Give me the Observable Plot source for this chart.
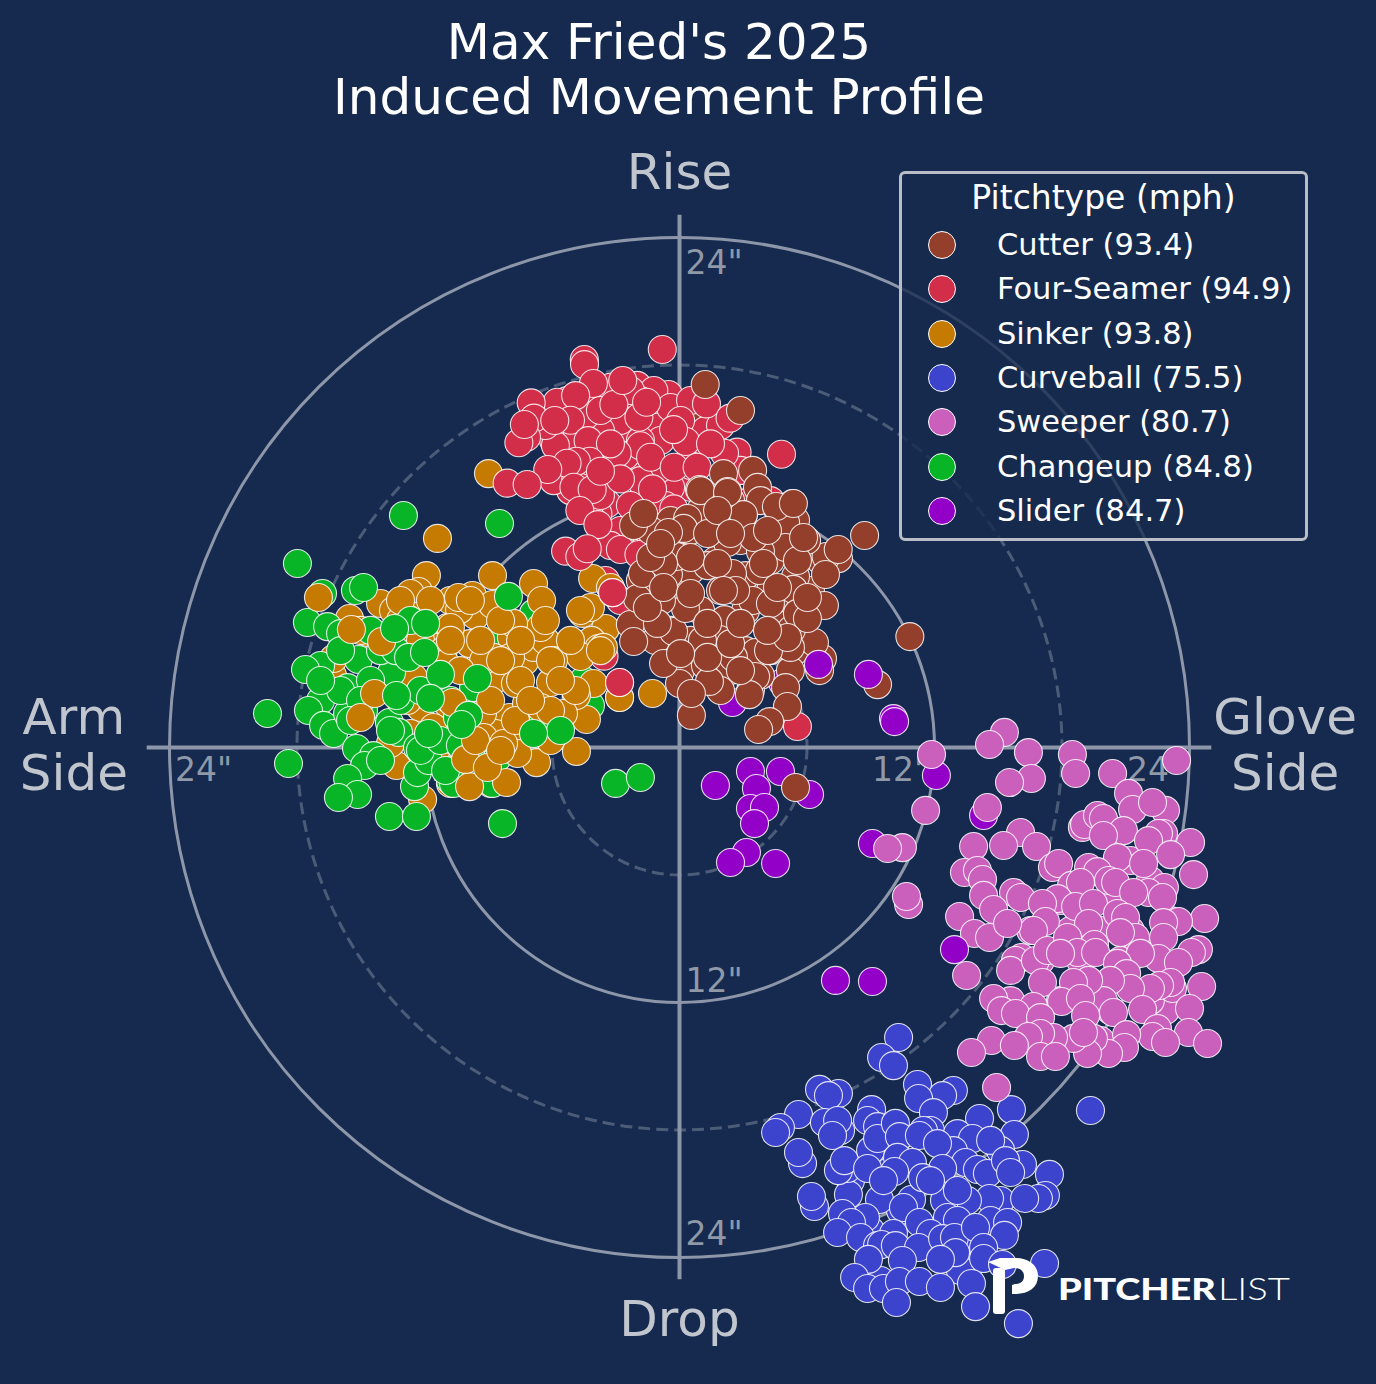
<!DOCTYPE html>
<html><head><meta charset="utf-8">
<style>
html,body{margin:0;padding:0;background:#152a4e;}
#wrap{position:relative;width:1376px;height:1384px;overflow:hidden;font-family:"DejaVu Sans",sans-serif;}
#title{position:absolute;left:0;top:15px;width:1318px;text-align:center;color:#fff;font-size:50px;line-height:55px;}
#legend{position:absolute;left:899px;top:171px;width:403px;height:364px;border:3px solid #b9bdc6;border-radius:6px;background:rgba(21,42,78,.8);color:#fff;}
#legend .h{position:absolute;left:0;width:100%;top:4px;text-align:center;font-size:33px;line-height:40px;}
#legend .r{position:absolute;left:26px;height:40px;line-height:40px;font-size:30.5px;white-space:nowrap;}
#legend .c{position:absolute;left:0;top:6px;width:26px;height:26px;border-radius:50%;border:1px solid #fff;}
#legend .t{position:absolute;left:69px;top:0;}
#logo{position:absolute;left:0;top:0;pointer-events:none;}
</style>
<script src="https://cdn.jsdelivr.net/npm/d3@7"></script>
<script src="https://cdn.jsdelivr.net/npm/@observablehq/plot@0.6"></script>
</head><body><div id="wrap"><div id="title">Max Fried's 2025<br>Induced Movement Profile</div></div>
<script>
const pitchNames=["Cutter","Four-Seamer","Sinker","Curveball","Sweeper","Changeup","Slider"];
const pitchMph=[93.4,94.9,93.8,75.5,80.7,84.8,84.7];
const pitchColors=["#933f2c","#d22d49","#c57a02","#3c44cd","#ca5fbc","#07b526","#9300c7"];
const ringsSolid=[12,24];
const ringsDashed=[6,18];

// horizontal / vertical induced movement, inches
const sinkerLow=[[-11.39,9.84],[-11.91,8.09],[-12.28,7.34],[-14.07,6.78],[-13.46,6.45],[-12.66,7.25],[-12.19,6.21],[-12.8,6.07],[-15.53,6.07],[-14.68,5.41],[-16.33,3.39],[-16.28,4.19],[-12.09,-2.45],[-13.69,-.47],[-13.32,-.85],[-10.78,6.92],[-10.92,5.65],[-12.52,3.29],[-12.19,1.88],[-10.92,2.07],[-11.58,.94],[-12.8,2.21],[-13.6,.19],[-12.66,.66],[-11.39,0],[-10.78,-1.69],[-13.27,5.04],[-11.39,4.71],[-15.01,5.51],[-13.13,5.98],[-12.19,5.04],[-13.13,6.92],[-8.89,-1.69]];
const changeup=[[-12.99,10.92],[-17.98,8.66],[-15.25,7.39],[-14.87,7.53],[-16.8,7.25],[-17.51,5.88],[-16.56,5.69],[-15.95,5.36],[-15.11,4.14],[-16.89,3.86],[-17.6,3.67],[-13.55,3.53],[-14.68,2.82],[-16.89,2.21],[-15.62,2.82],[-17.46,1.74],[-19.39,1.6],[-16.75,1.04],[-16.28,.66],[-15.62,1.6],[-14.87,1.74],[-13.65,1.18],[-13.22,.71],[-15.2,-.05],[-14.4,-.38],[-14.82,-.85],[-18.4,-.75],[-15.62,-1.46],[-15.15,-2.21],[-16.05,-2.35],[-13.65,-3.25],[-12.38,-3.25],[-12.47,-1.84],[-12.33,-1.18],[-11.81,-.61],[-12.33,0],[-10.92,-1.08],[-10.64,.33],[-10.78,-1.55],[-10.45,1.41],[-8.47,10.54],[-6.87,6.31],[-5.13,4.94],[-8.42,5.04],[-4.52,3.15],[-4.19,1.98],[-6.68,1.04],[-9.69,2.82],[-10.64,-1.08],[-10.64,-1.69],[-9.36,-.38],[-3.01,-1.69],[-1.84,-1.41],[-8.33,-3.58],[-9.69,6.8],[-8.56,-.47],[-8.8,-1.69],[-2.82,9.9],[-15.95,2.68],[-14.54,3.15],[-15.95,4.56],[-14.07,4.56],[-15.01,2.21],[-13.13,2.21],[-12.19,2.68],[-15.48,1.27],[-13.6,.8],[-12.19,-.14],[-11.01,-1.08],[-11.25,.33],[-14.07,-.61],[-10.31,.09],[-10.78,2.21],[-16.89,3.15],[-14.54,5.51],[-12.66,5.98],[-13.36,4.56]];
const fourSeamLow=[[-3.81,5.04],[-3.48,7.86],[-2.78,6.92],[-3.55,4.3],[-2.82,2.35]];
const sinkerHigh=[[-16.99,7.06],[-15.44,5.55],[-14.02,4.99],[-14.35,2.54],[-15.01,1.41],[-8.99,12.89],[-8.8,8.09],[-6.87,7.72],[-6.49,6.92],[-4.09,7.95],[-3.25,7.53],[-4.56,6.31],[-3.48,5.6],[-4.14,5.04],[-3.81,4.66],[-3.58,4.71],[-4.66,4.28],[-1.27,2.54],[-2.82,2.35],[-4.05,3.01],[-4.38,1.32],[-4.85,2.45],[-5.46,1.6],[-4.85,-.19],[-6.73,-.71],[-8.14,-1.65],[-9.88,-1.84],[-10.07,-.56],[-8,1.41],[-7.2,2.07],[-6.07,3.06],[-7.29,4.05],[-7.91,5.18],[-9.88,4.89],[-9.6,6.21],[-10.35,6.49],[-9.74,7.15],[-10.4,7.06],[-8.8,6.73],[-10.68,2.12],[-7.67,.61],[-8.66,.66],[-9.27,1.6],[-8.75,3.15],[-6.87,4.71],[-6.31,5.04],[-7.95,4.24],[-5.93,4.09],[-7.72,3.01],[-10.78,5.65],[-11.11,4.56],[-11.01,3.95],[-6.54,5.65],[-7.81,5.84],[-8.75,4.24],[-9.22,4.09],[-6.54,1.88],[-6.07,.33],[-7.62,-.28],[-9.22,.47],[-8.28,.19],[-9.04,-.94],[-4.19,6.59],[-9.36,5.04],[-8.42,5.98],[-7.48,5.04],[-6.31,5.98],[-8.42,4.09],[-10.78,5.04],[-10.31,3.62],[-7.48,3.15],[-6.07,4.09],[-5.13,5.04],[-8.89,2.21],[-7.72,1.27],[-6.07,1.74],[-4.89,2.68],[-9.6,.33],[-8.42,-.14],[-7.01,2.21],[-5.6,3.15],[-3.72,4.56],[-4.66,6.45],[-9.84,6.92],[-11.72,6.92]];
const changeupTop=[[-8.05,7.11],[-5.6,.8],[-6.87,.66],[-9.51,3.25],[-9.93,1.51],[-10.26,1.08],[-11.25,3.44],[-11.72,2.31],[-11.81,.66],[-12.75,4.24],[-11.95,5.84],[-12,4.47],[-13.41,5.6],[-13.32,2.45]];
const cutterLow=[[.52,15.72],[-.89,12.56],[-.89,11.01],[1.46,11.29],[2.87,13.04],[.52,13.3]];
const fourSeam=[[-.81,18.73],[-4.48,18.26],[-4.47,18.02],[-4.05,16.64],[-.52,16.61],[-3.4,15.07],[-2.31,14.76],[-1.05,15.07],[-3.72,15.86],[-4.66,16.48],[-1.99,17.04],[-1.21,16.8],[-.11,15.7],[1.46,15.07],[2.71,13.9],[.52,12.25],[-.42,12.25],[-1.84,13.04],[-5.92,14.44],[-5.29,16.33],[-5.76,16.25],[-2.64,16.48],[-3.25,16.95],[-4.05,17.13],[-.42,16],[.99,14.6],[-5.13,12.09],[-3.4,11.47],[-1.52,11.31],[-3.84,11],[-4.19,11.48],[-1.05,13.04],[.52,14.13],[3.66,11.62],[-5.92,12.56],[5.55,.99],[-1.84,9.18],[-2.78,15.39],[-3.72,14.92],[-4.42,15.62],[-.89,14.45],[-1.84,16.33],[-3.72,15.86],[-4.89,14.45],[-5.84,14.21],[-6.31,15.15],[-2.54,13.74],[-3.48,13.27],[-1.84,12.56],[-.66,11.39],[-3.72,11.86],[-2.78,10.21],[-1.84,11.15],[-1.36,9.98],[-3.25,9.51],[.52,13.27],[2.87,13.04],[1.22,14.92],[1.93,15.15],[.52,16.33],[-4.89,12.56],[-1.84,14.45],[.05,15.39],[-2.31,16.8],[-4.89,16.56],[3.34,11.62],[4.28,11.62],[1.27,16.17],[2.38,15.5],[4.8,13.8],[2.12,13.85],[-6.98,16.22],[-6.85,15.5],[-5.13,15.4],[-5.87,15.39],[-1.91,15.54],[-1.55,16.25],[-3.09,16.14],[-2.67,17.27],[.3,14.4],[-.28,14.96],[1.46,14.29],[-7.2,14.6],[-7.56,14.34],[-7.3,15.2],[-4.3,14.44],[-1.84,14.2],[-2.93,13.85],[-3.25,14.29],[-1.36,13.66],[-.25,13.19],[.83,13.19],[-4.22,13.47],[-4.85,13.47],[-5.29,13.38],[-6.2,13.08],[-8.11,12.44],[-7.17,12.38],[-4.97,12.25],[-2.78,12.64],[-1.27,12.17],[-4.11,12.14],[-3.72,13],[-4.69,11.15],[-3.84,10.49],[-2.31,11.39],[-.27,11.23],[-5.36,9.24],[-4.69,8.99],[-4.34,9.35],[-2.78,9.32],[-1.91,9.08],[-2.82,3.06],[-3.15,7.29]];
const slider=[[4.85,3.06],[2.49,2.12],[12.09,-1.32],[3.34,-1.13],[4.75,-1.13],[1.69,-1.79],[3.62,-1.93],[3.34,-2.87],[4,-2.82],[3.53,-3.58],[6.12,-2.21],[3.15,-4.94],[2.4,-5.41],[4.52,-5.46],[9.08,-4.52],[7.34,-10.96],[9.08,-11.01],[14.31,-3.2]];
const cutter=[[1.21,17.08],[2.87,15.86],[3.44,13.04],[2.07,12.89],[3.67,12.24],[.94,12.14],[2.26,12.05],[3.01,10.96],[4.56,11.29],[5.32,11.48],[4.94,10.59],[.38,10.78],[.19,10.21],[-.14,9.04],[-.89,8.8],[.05,7.39],[.99,6.45],[1.93,7.39],[3.11,6.45],[4.28,7.39],[5.22,6.45],[6.16,7.39],[-1.36,6.45],[-.42,5.51],[.52,5.04],[1.93,5.04],[3.11,4.56],[4.28,4.56],[5.46,4.56],[-1.13,5.04],[.05,3.62],[1.22,3.86],[2.4,3.62],[3.81,3.39],[5.22,3.62],[.52,10.21],[1.69,10.68],[2.87,9.74],[4.05,9.51],[1.69,8.8],[.52,8.33],[3.11,8.09],[4.28,8.8],[5.69,9.27],[5.46,10.68],[3.81,11.62],[2.4,11.62],[.99,11.15],[-.42,10.68],[-1.36,10.21],[-1.84,7.86],[6.63,8.8],[4.75,5.74],[3.34,2.68],[1.93,2.68],[10.84,5.22],[8.71,9.98],[7.48,8.89],[6.9,8.99],[7.47,9.32],[6.87,8.14],[6.82,6.68],[6.73,4.19],[6.59,3.62],[9.32,2.96],[6.35,4.94],[5.27,5.55],[5.46,8.05],[5.36,7.44],[4.99,10.59],[4.56,11.34],[5.36,11.48],[4.99,9.41],[5.98,9.74],[3.76,8.33],[3.81,9.22],[3.01,10.96],[2.26,9.65],[2.49,8.19],[3.44,6.92],[2.64,7.39],[2.12,6.02],[1.88,5.08],[1.08,5.04],[3.58,4.47],[3.58,3.34],[4.99,2.82],[5.08,1.93],[4.24,1.22],[3.72,.85],[3.29,2.49],[.56,1.51],[1.41,3.11],[0,3.01],[.56,2.54],[-.75,3.95],[-.28,5.46],[.28,6.54],[-.85,6.92],[-2.31,5.79],[-2.16,4.99],[-1.98,7.01],[-1.74,8.19],[-.52,8.14],[-.14,8.99],[.38,10.78],[.19,10.31],[-.52,10.12],[-2.16,10.45],[-1.69,11.01],[.99,12.09],[2.26,12],[1.32,8.56],[.52,8.94],[-.75,8.66],[4.28,6.78],[4.61,7.53],[5.55,6.31],[6.02,6.07],[5.22,4.71],[4.19,4.56],[2.54,4.24],[1.32,4.24],[.05,4.42],[-1.04,5.84],[-1.51,6.59],[-.75,7.53],[1.32,10.07],[3.48,9.88],[4.14,10.21],[1.79,11.15],[5.55,8.8],[5.84,9.88],[6.02,7.06],[5.08,5.18],[2.87,3.62],[2.4,4.89],[-1.36,8.94],[-.89,9.6],[.52,7.25],[1.32,5.84],[2.87,5.84],[4.14,5.51],[3.95,8.66],[1.79,8.66],[2.07,7.39],[2.4,10.07],[5.46,-1.88]];
const sliderTop=[[6.54,3.91],[8.89,3.44],[10.07,1.36],[10.12,1.22]];
const curveball=[[10.31,-13.65],[9.51,-14.59],[10.07,-14.97],[6.59,-16.09],[7.48,-16.28],[7.01,-16.38],[11.2,-15.86],[12.89,-16.14],[12.38,-16.38],[11.25,-16.52],[11.95,-17.18],[15.62,-17.04],[15.76,-18.21],[14.12,-17.46],[5.6,-17.27],[4.75,-17.88],[4.52,-18.12],[5.79,-19.58],[5.6,-19.06],[8.99,-18.96],[9.93,-19.91],[11.81,-18.02],[13.22,-18.49],[8.99,-22.73],[10.4,-21.79],[12.28,-20.38],[15.11,-18.96],[15.11,-21.32],[14.16,-23.2],[10.4,-23.67],[8.05,-20.38],[7.58,-18.02],[13.22,-24.61],[9.46,-25.08],[6.82,-17.65],[7.44,-17.55],[7.2,-18.26],[9.04,-17.04],[8.85,-17.55],[9.32,-17.84],[9.32,-18.4],[10.16,-17.69],[11.48,-18.02],[10.35,-18.31],[11.29,-18.26],[13.08,-18.17],[13.79,-18.4],[12.89,-18.97],[12.14,-18.64],[14.64,-18.49],[13.46,-19.53],[14.02,-19.86],[14.49,-20.05],[16.14,-19.62],[15.34,-19.44],[15.58,-20],[17.41,-20.09],[17.22,-21.08],[16.89,-21.22],[16.24,-21.22],[14.59,-21.22],[13.55,-21.32],[12.47,-21.32],[10.92,-21.27],[9.41,-21.27],[7.95,-21.04],[6.35,-21.6],[6.21,-21.13],[7.91,-19.81],[7.48,-19.91],[7.76,-19.44],[8.85,-19.81],[10.26,-19.29],[10.96,-19.53],[10.12,-19.95],[12.38,-19.81],[11.44,-20.24],[9.6,-20.38],[11.81,-20.38],[13.08,-20.85],[10.54,-21.65],[8.75,-22.12],[7.67,-21.93],[8.09,-22.35],[7.44,-22.82],[11.29,-22.35],[12.61,-22.12],[14.64,-22.26],[13.08,-22.26],[10.07,-22.87],[11.81,-22.87],[13.69,-23.2],[8.52,-23.06],[9.32,-23.44],[9.51,-23.39],[10.16,-23.44],[11.25,-23.53],[12.38,-23.11],[12.94,-23.06],[12.99,-23.77],[12.28,-24.09],[13.93,-22.59],[15.44,-22.35],[15.29,-22.96],[14.31,-23.53],[14.31,-24.05],[15.2,-24.33],[17.18,-24.28],[8.89,-24.09],[10.49,-24.14],[8.24,-24.94],[8.85,-25.46],[9.6,-25.46],[10.35,-25.13],[10.21,-26.12],[11.29,-25.13],[12.28,-25.41],[13.74,-25.22],[13.93,-26.31],[15.95,-27.11],[19.34,-17.08]];
const sweeper=[[15.29,.71],[14.59,.14],[16.42,-.24],[18.49,-.33],[18.64,-1.22],[16.56,-1.46],[15.53,-1.65],[20.38,-1.22],[23.39,-.61],[21.13,-2.16],[22.87,-2.96],[21.32,-2.92],[22.26,-2.59],[14.49,-2.82],[21.22,-5.32],[22.16,-6.26],[20.28,-7.2],[17.93,-7.2],[16.52,-8.61],[21.22,-8.61],[23.11,-8.14],[17.93,-11.91],[20.28,-12.38],[22.87,-12.38],[15.58,-11.91],[16.99,-13.79],[19.81,-13.79],[22.16,-11.91],[18.87,-10.02],[20.75,-10.02],[16.99,-10.02],[19.81,-8.61],[18.4,-8.61],[18.96,-3.76],[19.06,-3.62],[19.67,-3.2],[19.95,-3.34],[20.89,-3.91],[19.95,-4.14],[22.78,-4.05],[22.54,-4.05],[22.07,-4.38],[24.05,-4.47],[23.11,-5.04],[24.19,-5.98],[16.05,-4],[15.25,-4.61],[16.8,-4.66],[13.84,-4.66],[13.41,-5.88],[14.02,-5.79],[14.26,-6.21],[17.55,-5.65],[17.84,-5.46],[20.61,-5.18],[21.84,-5.46],[19.25,-5.65],[19.67,-5.84],[18.45,-6.49],[18.87,-6.35],[20.19,-6.26],[20.52,-6.35],[22.82,-6.59],[22.07,-6.82],[22.73,-7.06],[21.37,-6.82],[15.72,-6.82],[16.05,-7.06],[14.31,-6.96],[14.78,-7.62],[13.18,-7.95],[17.79,-7.11],[17.08,-7.34],[17.22,-8.19],[18.64,-7.48],[19.48,-7.34],[20.61,-7.81],[20.99,-8],[24.71,-8.05],[23.48,-8.19],[22.78,-8.24],[13.88,-8.75],[14.59,-8.94],[16.66,-8.61],[15.44,-8.28],[16.09,-9.88],[15.81,-10.02],[15.58,-10.49],[16.75,-10.02],[17.32,-9.55],[19.25,-8.28],[18.26,-8.94],[19.53,-9.27],[18.73,-9.65],[19.58,-9.65],[17.93,-9.69],[21.46,-8.94],[20.75,-8.71],[22.78,-8.94],[22.54,-9.93],[24.42,-9.51],[24.09,-9.65],[23.48,-10.12],[21.69,-9.69],[20.61,-10.16],[21.04,-10.64],[13.51,-10.73],[24.57,-11.25],[23.2,-11.34],[23.11,-11.06],[22.59,-11.2],[22.16,-11.34],[21.22,-11.34],[21.79,-12.33],[24,-12.28],[20.28,-10.96],[19.95,-11.91],[20.42,-12.47],[19.25,-10.96],[18.54,-11.06],[17.08,-11.06],[17.98,-11.95],[18.87,-11.81],[16.66,-12.19],[14.78,-11.81],[15.15,-12.38],[15.81,-12.52],[16.99,-12.71],[19.11,-12.61],[22.49,-13.22],[22.26,-13.6],[23.95,-13.41],[24.85,-13.93],[22.87,-13.88],[21.04,-13.51],[20.94,-14.12],[20.19,-14.4],[19.48,-13.69],[19.2,-14.4],[18.54,-13.69],[19.01,-13.41],[17.6,-13.65],[16.99,-13.46],[16.42,-13.6],[14.68,-13.79],[13.74,-14.35],[15.76,-14.02],[16.99,-14.54],[17.69,-14.54],[14.92,-16],[11.86,-.33],[11.58,-2.96],[10.49,-4.71],[9.79,-4.75],[10.78,-7.39],[10.68,-7.01]];
const sliderOver=[[12.94,-9.51]];
const fourSeamTop=[[-2.82,3.06],[-3.15,7.29]];

const W=1376,H=1384,ppi=21.25,cx=679,cy=747;
const layer=(arr,color)=>Plot.dot(arr,{x:d=>d[0],y:d=>d[1],r:14,fill:color,stroke:"#fff",strokeWidth:1.1,strokeOpacity:.85});
const C=Object.fromEntries(pitchNames.map((n,i)=>[n,pitchColors[i]]));
const grid="#8d97a9";
const tickFill="#8f99a8";
const label=(x,y,t,opts={})=>Plot.text([t],{x:()=>x,y:()=>y,text:d=>d,fill:opts.fill||"#c1c5ce",fontSize:opts.size||50,lineHeight:1.12,textAnchor:opts.anchor||"middle"});
const chart=Plot.plot({
  width:W,height:H,margin:0,
  style:{background:"#152a4e",fontFamily:"'DejaVu Sans',sans-serif"},
  x:{domain:[-cx/ppi,(W-cx)/ppi],range:[0,W],axis:null},
  y:{domain:[(cy-H)/ppi,cy/ppi],range:[H,0],axis:null},
  marks:[
    ...ringsDashed.map(v=>Plot.dot([0],{x:()=>0,y:()=>0,r:v*ppi,stroke:"#fff",strokeOpacity:.24,strokeWidth:3,strokeDasharray:"12 6",fill:"none"})),
    ...ringsSolid.map(v=>Plot.dot([0],{x:()=>0,y:()=>0,r:v*ppi,stroke:grid,strokeWidth:3,fill:"none"})),
    Plot.ruleX([0],{y1:-25.05,y2:25.05,stroke:grid,strokeWidth:4}),
    Plot.ruleY([0],{x1:-25.05,x2:25.05,stroke:grid,strokeWidth:4}),
    label(.28,22.85,'24"',{size:33,fill:tickFill,anchor:"start"}),
    label(.28,11,'12"',{size:33,fill:tickFill,anchor:"start"}),
    label(.28,-10.93,'12"',{size:33,fill:tickFill,anchor:"start"}),
    label(.28,-22.85,'24"',{size:33,fill:tickFill,anchor:"start"}),
    label(-22.4,-1,'24"',{size:33,fill:tickFill}),
    label(-10.4,-1,'12"',{size:33,fill:tickFill}),
    label(10.4,-1,'12"',{size:33,fill:tickFill}),
    label(22.4,-1,'24"',{size:33,fill:tickFill}),
    label(0,27.14,"Rise"),
    label(0,-26.86,"Drop"),
    label(-28.5,.14,"Arm\nSide"),
    label(28.5,.14,"Glove\nSide"),
    layer(sinkerLow,C.Sinker),
    layer(changeup,C.Changeup),
    layer(fourSeamLow,C["Four-Seamer"]),
    layer(sinkerHigh,C.Sinker),
    layer(changeupTop,C.Changeup),
    layer(cutterLow,C.Cutter),
    layer(fourSeam,C["Four-Seamer"]),
    layer(slider,C.Slider),
    layer(cutter,C.Cutter),
    layer(sliderTop,C.Slider),
    layer(curveball,C.Curveball),
    layer(sweeper,C.Sweeper),
    layer(sliderOver,C.Slider),
    layer(fourSeamTop,C["Four-Seamer"])
  ]
});
const wrap=document.getElementById("wrap");
wrap.insertBefore(chart,wrap.firstChild);
chart.style.position="absolute";chart.style.left="0";chart.style.top="0";

const lg=document.createElement("div");lg.id="legend";
lg.innerHTML='<div class="h">Pitchtype (mph)</div>'+pitchNames.map((n,i)=>
 `<div class="r" style="top:${51+i*44.3}px"><span class="c" style="background:${pitchColors[i]}"></span><span class="t">${n} (${pitchMph[i].toFixed(1)})</span></div>`).join("");
wrap.appendChild(lg);

const ns=`<svg id="logo" width="${W}" height="${H}" xmlns="http://www.w3.org/2000/svg">
<rect x="993" y="1268" width="12" height="46" rx="3" fill="#fff"/>
<path d="M988 1262 L1000 1258 H1015 C1030 1258 1038 1266 1038 1276 C1038 1288 1028 1294 1015 1294 H1012 V1285 L1015 1284 C1021 1284 1024 1281 1024 1276 C1024 1271 1020 1268 1014 1268 L1005 1270 Z" fill="#fff"/>
<text x="1058" y="1300" font-family="Lato,sans-serif" font-weight="900" font-size="31" fill="#fff" textLength="158" lengthAdjust="spacingAndGlyphs">PITCHER</text>
<text x="1218" y="1300" font-family="Lato,sans-serif" font-weight="300" font-size="31" fill="#fff" textLength="72" lengthAdjust="spacingAndGlyphs">LIST</text>
</svg>`;
wrap.insertAdjacentHTML("beforeend",ns);
</script></body></html>
